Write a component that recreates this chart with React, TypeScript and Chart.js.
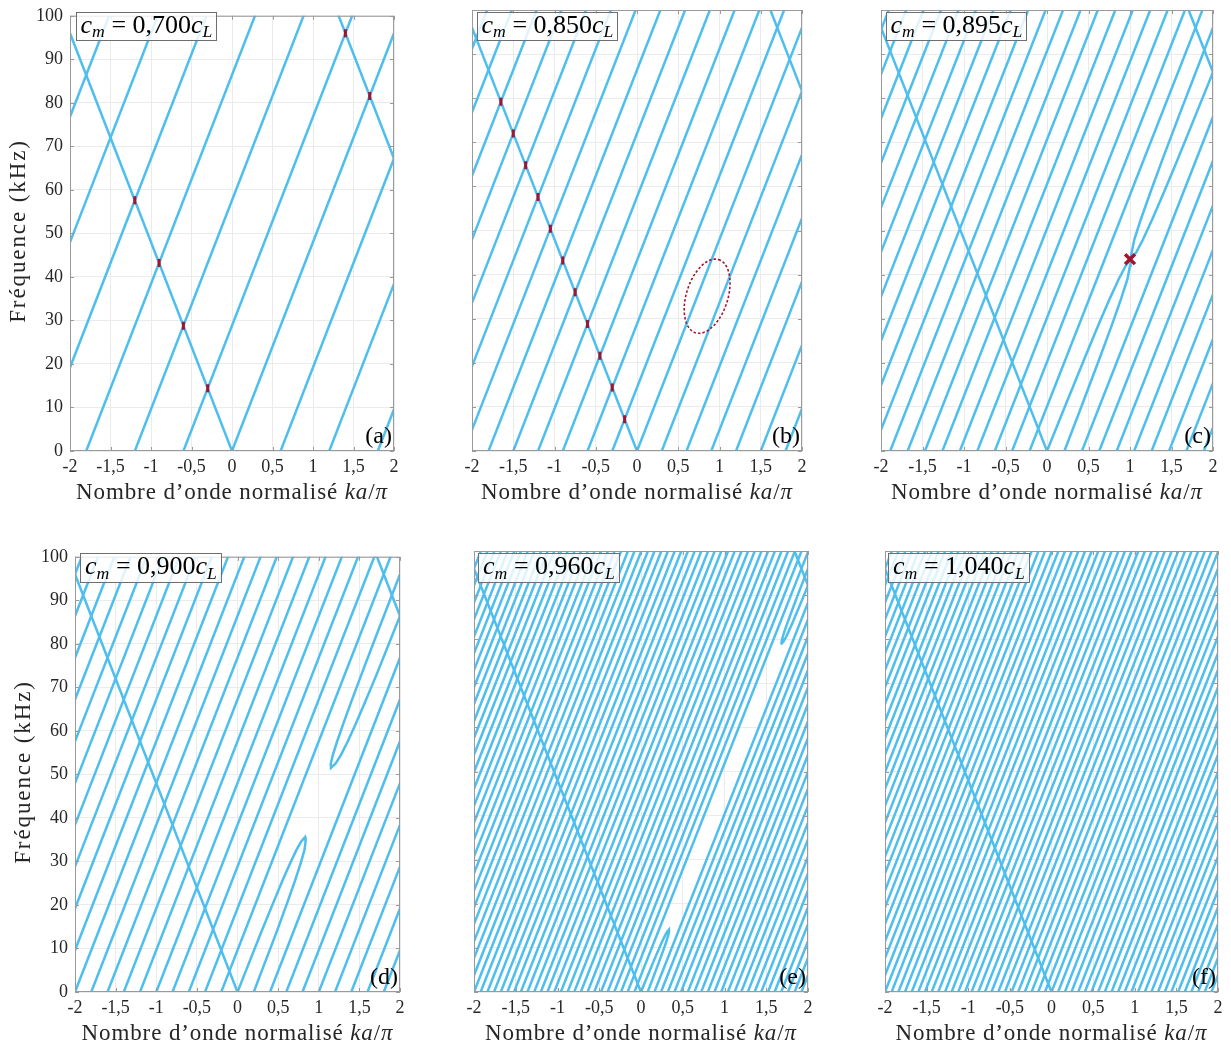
import React, { useEffect, useRef } from 'react';
import { Chart, registerables } from 'chart.js';

Chart.register(...registerables);

// ---------------- data ----------------
const K_TICKS = [-2, -1.5, -1, -0.5, 0, 0.5, 1, 1.5, 2];
const F_TICKS = [0, 10, 20, 30, 40, 50, 60, 70, 80, 90, 100];
const SLOPE = 48; // kHz per unit of ka/π (slope of every straight branch)

// f-intercepts (at ka/π = 0) of straight rising / falling branches, per panel
const fwdA = [-86.4, -57.6, -28.8, 0, 28.8, 57.6, 86.4, 115.2, 144.0, 172.8];
const bwdA = [0, 163.2];
const fwdB = [-86.4, -72.0, -57.6, -43.2, -28.8, -14.4, 0, 14.4, 28.8, 43.2, 57.6, 72.0, 86.4, 100.8, 115.2, 129.6, 144.0, 158.4, 172.8, 187.2];
const bwdB = [0, 177.6];
const fwdC = [-90.7, -80.6, -70.6, -60.5, -50.4, -40.3, -30.2, -20.2, 10.1, 20.2, 30.2, 40.3, 50.4, 60.5, 70.6, 80.6, 90.7, 100.8, 110.9, 121.0, 131.0, 141.1, 151.2, 161.3, 171.4, 181.4, 191.5];
const bwdC = [0, 181.9];
const fwdD = [-86.4, -76.8, -67.2, -57.6, -48.0, -38.4, -28.8, -19.2, 9.6, 19.2, 28.8, 38.4, 48.0, 57.6, 67.2, 76.8, 86.4, 96.0, 105.6, 115.2, 124.8, 134.4, 144.0, 153.6, 163.2, 172.8, 182.4, 192.0];
const bwdD = [0, 182.4];
const fwdE = [-92.2, -88.3, -84.5, -80.6, -76.8, -73.0, -69.1, -65.3, -61.4, -57.6, -53.8, -49.9, -46.1, -42.2, -38.4, -34.6, -30.7, -26.9, -23.0, -19.2, -15.4, -11.5, -7.7, 3.8, 7.7, 11.5, 15.4, 19.2, 23.0, 26.9, 30.7, 34.6, 38.4, 42.2, 46.1, 49.9, 53.8, 57.6, 61.4, 65.3, 69.1, 73.0, 76.8, 80.6, 84.5, 88.3, 92.2, 96.0, 99.8, 103.7, 107.5, 111.4, 115.2, 119.0, 122.9, 126.7, 130.6, 134.4, 138.2, 142.1, 145.9, 149.8, 153.6, 157.4, 161.3, 165.1, 169.0, 172.8, 176.6, 180.5, 184.3, 188.2, 192.0, 195.8];
const bwdE = [0, 188.2];
const fwdF = [-92.2, -88.3, -84.5, -80.6, -76.8, -73.0, -69.1, -65.3, -61.4, -57.6, -53.8, -49.9, -46.1, -42.2, -38.4, -34.6, -30.7, -26.9, -23.0, -19.2, -15.4, -11.5, -7.7, -3.8, 0, 3.8, 7.7, 11.5, 15.4, 19.2, 23.0, 26.9, 30.7, 34.6, 38.4, 42.2, 46.1, 49.9, 53.8, 57.6, 61.4, 65.3, 69.1, 73.0, 76.8, 80.6, 84.5, 88.3, 92.2, 96.0, 99.8, 103.7, 107.5, 111.4, 115.2, 119.0, 122.9, 126.7, 130.6, 134.4, 138.2, 142.1, 145.9, 149.8, 153.6, 157.4, 161.3, 165.1, 169.0, 172.8, 176.6, 180.5, 184.3, 188.2, 192.0, 195.8];
const bwdF = [0];

// curved branches [ka/π, kHz]
const curvesC: [number, number][][] = [
  [[0, 0], [0.225, 10.5], [0.463, 21.5], [0.618, 28.5], [0.755, 34.5], [0.865, 39], [0.949, 42], [1.006, 43.5], [1.02, 45], [1.053, 48], [1.13, 52.5], [1.243, 58.5], [1.379, 65.5], [1.6, 76.5], [1.846, 88.5], [2, 96]],
  [[0.21, 0], [0.423, 10.5], [0.643, 21.5], [0.78, 28.5], [0.892, 34.5], [0.97, 39], [1.0, 42], [1.006, 43.5], [1.074, 45], [1.158, 48], [1.267, 52.5], [1.405, 58.5], [1.56, 65.5], [1.798, 76.5], [2, 85.9]],
];
const curvesD: [number, number][][] = [
  [[0, 0], [0.119, 5.6], [0.289, 13.6], [0.442, 20.6], [0.554, 25.6], [0.648, 29.6], [0.724, 32.6], [0.784, 34.6], [0.831, 35.6], [0.838, 34.6], [0.824, 32.6], [0.778, 29.6], [0.708, 25.6], [0.614, 20.6], [0.477, 13.6], [0.314, 5.6], [0.2, 0]],
  [[2, 86.4], [1.895, 81.5], [1.724, 73.5], [1.568, 66.5], [1.453, 61.5], [1.355, 57.5], [1.274, 54.5], [1.208, 52.5], [1.151, 51.5], [1.148, 52.5], [1.174, 54.5], [1.225, 57.5], [1.299, 61.5], [1.396, 66.5], [1.536, 73.5], [1.7, 81.5], [2, 96]],
];
const curvesE: [number, number][][] = [
  [[0, 0], [0.067, 3.1], [0.143, 6.6], [0.199, 9.1], [0.245, 11.1], [0.283, 12.6], [0.311, 13.6], [0.334, 14.1], [0.335, 13.6], [0.323, 12.6], [0.297, 11.1], [0.26, 9.1], [0.212, 6.6], [0.142, 3.1], [0.08, 0]],
  [[2, 92.2], [1.953, 90], [1.876, 86.5], [1.821, 84], [1.774, 82], [1.737, 80.5], [1.708, 79.5], [1.686, 79], [1.684, 79.5], [1.697, 80.5], [1.722, 82], [1.759, 84], [1.808, 86.5], [1.877, 90], [1.959, 94], [2, 96]],
];

// band-gap markers [ka/π, kHz]
const gapsA: [number, number][] = [[-0.3, 14.4], [-0.6, 28.8], [-0.9, 43.2], [-1.2, 57.6], [1.4, 96], [1.7, 81.6]];
const gapsB: [number, number][] = [[-0.15, 7.2], [-0.3, 14.4], [-0.45, 21.6], [-0.6, 28.8], [-0.75, 36], [-0.9, 43.2], [-1.05, 50.4], [-1.2, 57.6], [-1.35, 64.8], [-1.5, 72], [-1.65, 79.2]];
const crossC: [number, number][] = [[1.0, 43.5]];
// dashed ellipse in panel (b): centre, half-axis vectors (data units)
const ellipseB = { c: [0.85, 35.1], u: [0.14, 8.3], v: [0.24, -1.38] };

const RATIOS = ['0,700', '0,850', '0,895', '0,900', '0,960', '1,040'];
const LETTERS = ['(a)', '(b)', '(c)', '(d)', '(e)', '(f)'];

// ---------------- layout / style ----------------
const SERIF = '"Liberation Serif", "DejaVu Serif", serif';
const BLUE = '#4DBEEE';
const RED = '#A2142F';
const TXT = '#262626';
const PAD_L = 60, PAD_T = 12, PAD_R = 12, PAD_B = 32;

interface Spec {
  idx: number;
  left: number; top: number; width: number; height: number;
  showY: boolean;
  fwd: number[]; bwd: number[];
  curves?: [number, number][][];
  gaps?: [number, number][];
  cross?: [number, number][];
  ellipse?: { c: number[]; u: number[]; v: number[] };
  box: [number, number, number, number];
}

const SPECS: Spec[] = [
  { idx: 0, left: 70, top: 10, width: 324, height: 441, showY: true, fwd: fwdA, bwd: bwdA, gaps: gapsA, box: [76, 12, 141, 29] },
  { idx: 1, left: 472, top: 10, width: 330, height: 441, showY: false, fwd: fwdB, bwd: bwdB, gaps: gapsB, ellipse: ellipseB, box: [477, 12, 141, 29] },
  { idx: 2, left: 881, top: 10, width: 332, height: 441, showY: false, fwd: fwdC, bwd: bwdC, curves: curvesC, cross: crossC, box: [886, 12, 141, 29] },
  { idx: 3, left: 75, top: 551, width: 325, height: 441, showY: true, fwd: fwdD, bwd: bwdD, curves: curvesD, box: [80, 553, 142, 30] },
  { idx: 4, left: 474, top: 551, width: 334, height: 441, showY: false, fwd: fwdE, bwd: bwdE, curves: curvesE, box: [478, 553, 142, 30] },
  { idx: 5, left: 885, top: 551, width: 333, height: 441, showY: false, fwd: fwdF, bwd: bwdF, box: [888, 553, 142, 30] },
];

const fmt = (v: number) => String(v).replace('.', ',');

const boxPlugin = {
  id: 'boxTicks',
  afterDatasetsDraw(chart: any) {
    const { ctx, chartArea: a, scales } = chart;
    const x = scales.x, y = scales.y;
    ctx.save();
    ctx.strokeStyle = '#9a9a9a';
    ctx.lineWidth = 1;
    ctx.beginPath();
    K_TICKS.forEach((v) => {
      const px = Math.round(x.getPixelForValue(v)) + 0.5;
      ctx.moveTo(px, a.bottom); ctx.lineTo(px, a.bottom - 4);
      ctx.moveTo(px, a.top); ctx.lineTo(px, a.top + 4);
    });
    F_TICKS.forEach((v) => {
      const py = Math.round(y.getPixelForValue(v)) + 0.5;
      ctx.moveTo(a.left, py); ctx.lineTo(a.left + 4, py);
      ctx.moveTo(a.right, py); ctx.lineTo(a.right - 4, py);
    });
    ctx.stroke();
    ctx.strokeRect(a.left + 0.5, a.top + 0.5, a.right - a.left - 1, a.bottom - a.top - 1);
    ctx.restore();
  },
};

function makeEllipsePlugin(e: { c: number[]; u: number[]; v: number[] }) {
  return {
    id: 'ellipse',
    afterDatasetsDraw(chart: any) {
      const { ctx, scales } = chart;
      ctx.save();
      ctx.strokeStyle = RED;
      ctx.lineWidth = 1.6;
      ctx.setLineDash([2.5, 2]);
      ctx.beginPath();
      for (let i = 0; i <= 120; i++) {
        const t = (i / 120) * Math.PI * 2;
        const kx = e.c[0] + Math.cos(t) * e.u[0] + Math.sin(t) * e.v[0];
        const fy = e.c[1] + Math.cos(t) * e.u[1] + Math.sin(t) * e.v[1];
        const px = scales.x.getPixelForValue(kx);
        const py = scales.y.getPixelForValue(fy);
        if (i === 0) ctx.moveTo(px, py); else ctx.lineTo(px, py);
      }
      ctx.closePath();
      ctx.stroke();
      ctx.restore();
    },
  };
}

const LINE_STYLE = { borderColor: BLUE, borderWidth: 2.5, pointRadius: 0, fill: false, clip: 0, order: 1 };

function lineDs(b: number, sign: number) {
  return {
    ...LINE_STYLE,
    data: [
      { x: -2, y: b + sign * SLOPE * -2 },
      { x: 2, y: b + sign * SLOPE * 2 },
    ],
  };
}

function Panel({ s }: { s: Spec }) {
  const ref = useRef<HTMLCanvasElement | null>(null);
  const cw = s.width + PAD_L + PAD_R;
  const ch = s.height + PAD_T + PAD_B;

  useEffect(() => {
    if (!ref.current) return;
    const datasets: any[] = [];
    s.fwd.forEach((b) => datasets.push(lineDs(b, 1)));
    s.bwd.forEach((b) => datasets.push(lineDs(b, -1)));
    (s.curves || []).forEach((c) => datasets.push({ ...LINE_STYLE, data: c.map(([k, f]) => ({ x: k, y: f })) }));
    if (s.gaps) {
      datasets.push({
        data: s.gaps.map(([k, f]) => ({ x: k, y: f })),
        showLine: false,
        pointStyle: 'line',
        rotation: 90,
        pointRadius: 4,
        borderWidth: 3,
        borderColor: RED,
        backgroundColor: RED,
        order: -1,
      });
    }
    if (s.cross) {
      datasets.push({
        data: s.cross.map(([k, f]) => ({ x: k, y: f })),
        showLine: false,
        pointStyle: 'crossRot',
        pointRadius: 7,
        borderWidth: 3.5,
        borderColor: RED,
        backgroundColor: RED,
        order: -1,
      });
    }
    const font = { family: SERIF, size: 18 };
    const plugins: any[] = [boxPlugin];
    if (s.ellipse) plugins.push(makeEllipsePlugin(s.ellipse));
    const chart = new Chart(ref.current, {
      type: 'line',
      data: { datasets },
      options: {
        responsive: false,
        maintainAspectRatio: false,
        animation: false,
        devicePixelRatio: 1,
        events: [],
        layout: { padding: { left: 0, top: PAD_T, right: PAD_R, bottom: 0 } },
        plugins: { legend: { display: false }, tooltip: { enabled: false } },
        elements: { line: { tension: 0 }, point: { radius: 0 } },
        scales: {
          x: {
            type: 'linear',
            min: -2,
            max: 2,
            afterBuildTicks: (sc: any) => { sc.ticks = K_TICKS.map((v) => ({ value: v })); },
            afterFit: (sc: any) => { sc.height = PAD_B; },
            ticks: { callback: (v: any) => fmt(Number(v)), font, color: TXT, padding: 5, maxRotation: 0, autoSkip: false },
            grid: { color: '#ebebeb', drawTicks: false },
            border: { display: false },
          },
          y: {
            type: 'linear',
            min: 0,
            max: 100,
            afterBuildTicks: (sc: any) => { sc.ticks = F_TICKS.map((v) => ({ value: v })); },
            afterFit: (sc: any) => { sc.width = PAD_L; },
            ticks: { display: s.showY, font, color: TXT, padding: 7, autoSkip: false },
            grid: { color: '#ebebeb', drawTicks: false },
            border: { display: false },
          },
        },
      } as any,
      plugins,
    });
    return () => chart.destroy();
  }, []);

  const [bx, by, bw, bh] = s.box;
  const sub = { fontSize: '0.68em', fontStyle: 'italic' as const, position: 'relative' as const, top: '0.28em' };
  return (
    <>
      <canvas
        ref={ref}
        width={cw}
        height={ch}
        style={{ position: 'absolute', left: s.left - PAD_L, top: s.top - PAD_T, width: cw, height: ch }}
      />
      <div
        style={{
          position: 'absolute', left: bx, top: by, width: bw, height: bh, boxSizing: 'border-box',
          border: '1px solid #6e6e6e', background: 'rgba(255,255,255,0.82)',
          display: 'flex', alignItems: 'center', justifyContent: 'center',
          fontSize: 26, lineHeight: 1, whiteSpace: 'nowrap', color: '#000',
        }}
      >
        <span style={{ position: 'relative', top: -2 }}>
          <i>c</i><span style={sub}>m</span>
          <span> = </span>
          {RATIOS[s.idx]}<i>c</i><span style={sub}>L</span>
        </span>
      </div>
      <div
        style={{
          position: 'absolute', left: s.left + s.width - 80, width: 78, textAlign: 'right',
          top: s.top + s.height - 30, fontSize: 24, lineHeight: '28px', color: '#000',
        }}
      >
        {LETTERS[s.idx]}
      </div>
      <div
        style={{
          position: 'absolute', left: s.left - 40, width: s.width + 80, textAlign: 'center',
          top: s.top + s.height + 28, fontSize: 23, lineHeight: '26px', color: TXT, whiteSpace: 'nowrap',
          letterSpacing: '0.9px',
        }}
      >
        Nombre d’onde normalisé <i>ka</i>/<i>π</i>
      </div>
      {s.showY && (
        <div
          style={{
            position: 'absolute', left: s.left - 52 - 150, top: s.top + s.height / 2 - 13,
            width: 300, height: 26, textAlign: 'center', fontSize: 23, lineHeight: '26px', color: TXT,
            transform: 'rotate(-90deg)', transformOrigin: '50% 50%', whiteSpace: 'nowrap', letterSpacing: '1.9px',
          }}
        >
          Fréquence (kHz)
        </div>
      )}
    </>
  );
}

export default function App() {
  return (
    <div
      style={{
        position: 'absolute', left: 0, top: 0, width: 1231, height: 1052, background: '#fff',
        overflow: 'hidden', fontFamily: SERIF, color: TXT,
      }}
    >
      {SPECS.map((s) => <Panel key={s.idx} s={s} />)}
    </div>
  );
}
